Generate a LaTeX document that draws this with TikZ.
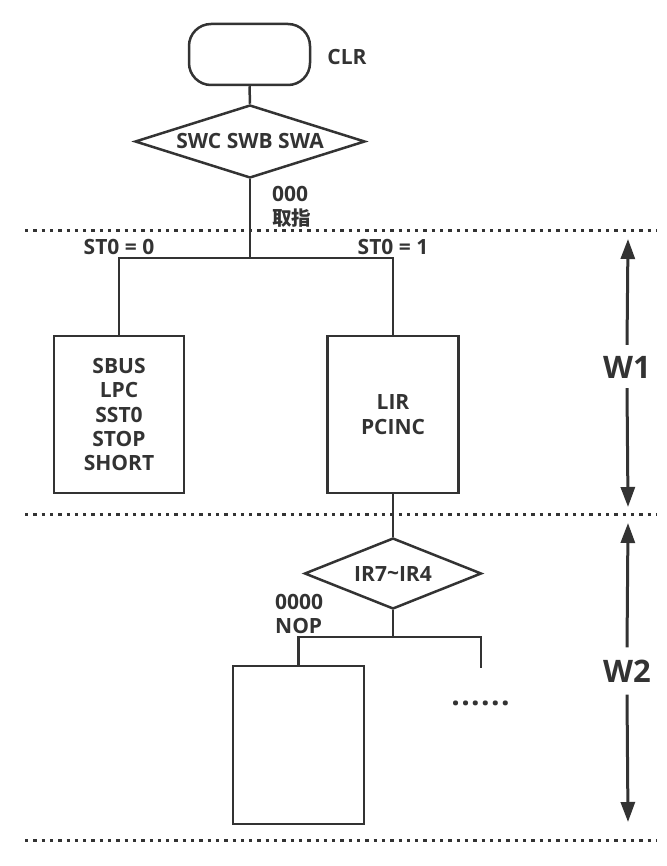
\documentclass[tikz,border=0pt]{standalone}
\usepackage{fontspec}
\setmainfont{Open Sans}
\newfontfamily\cjk{Noto Sans CJK SC}
\usetikzlibrary{shapes.geometric,arrows.meta}
\definecolor{ink}{HTML}{333333}
\tikzset{
  every node/.style={text=ink,font=\fontsize{21}{24.3}\selectfont\bfseries},
  conn/.style={draw=ink,line width=2.5pt},
  boxnode/.style={draw=ink,line width=2.5pt,rectangle,inner sep=0pt,align=center},
  decision/.style={draw=ink,line width=2.5pt,diamond,inner sep=0pt},
  divider/.style={draw=ink,line width=3pt,dash pattern=on 3.3pt off 5pt},
  span/.style={draw=ink,line width=3pt,-{Triangle[length=20pt,width=14pt]}},
  wlabel/.style={font=\fontsize{31}{31}\selectfont\bfseries,text height=23pt,text depth=0pt,inner xsep=0pt},
  lbl/.style={align=left,inner sep=0pt}
}
\begin{document}
\begin{tikzpicture}[x=1pt,y=-1pt]
\useasboundingbox (0,0) rectangle (666,866);
% dividers
\coordinate (l1a) at (25,231); \coordinate (l1b) at (657,231);
\coordinate (l2a) at (25,514); \coordinate (l2b) at (657,514);
\coordinate (l3a) at (25,840); \coordinate (l3b) at (657,840);
\draw[divider] (l1a) -- (l1b);
\draw[divider] (l2a) -- (l2b);
\draw[divider] (l3a) -- (l3b);
% nodes
\node[boxnode,rounded corners=22pt,minimum width=121pt,minimum height=61pt] (clr) at (249.5,54.5) {};
\node (clrl) at (347,57) {CLR};
\node[decision,minimum width=230pt,minimum height=73pt,shape aspect=3.15] (d1) at (250,141.5) {SWC SWB SWA};
\node[lbl,anchor=west] (l000) at (272,207) {000\\{\cjk\fontsize{19.5}{24.3}\selectfont\bfseries 取指}};
\coordinate (s1) at (250,258);
\node (st0) at (119,247) {ST0 = 0};
\node (st1) at (393,247) {ST0 = 1};
\node[boxnode,minimum width=130pt,minimum height=157pt] (b1) at (119,414.5) {SBUS\\LPC\\SST0\\STOP\\SHORT};
\node[boxnode,minimum width=131pt,minimum height=157pt] (b2) at (393,414.5) {LIR\\PCINC};
\node[decision,minimum width=177pt,minimum height=71pt,shape aspect=2.5] (d2) at (393,573.5) {IR7\raisebox{1pt}{\char`~}IR4};
\node[lbl,anchor=west] (l0000) at (275,614) {0000\\NOP};
\coordinate (s2) at (393,637);
\coordinate (rend) at (481,668);
\node[boxnode,minimum width=131pt,minimum height=158pt] (b3) at (298.5,745) {};
\node[font=\fontsize{30}{30}\selectfont\bfseries] (dots) at (480.5,703) {.\hspace{1.4pt}.\hspace{1.4pt}.\hspace{1.4pt}.\hspace{1.4pt}.\hspace{1.4pt}.};
% connectors
\draw[conn] (clr.south) -- (d1.north);
\draw[conn] (d1.south) -- (s1);
\draw[conn] (b1.north) |- (s1) -| (b2.north);
\draw[conn] (b2.south) -- (d2.north);
\draw[conn] (d2.south) -- (s2);
\draw[conn] (b3.north) |- (s2) -| (rend);
% W spans
\node[wlabel,inner ysep=10pt] (w1) at (627,366.5) {W1};
\coordinate (w1t) at (628,239); \coordinate (w1b) at (628,507);
\draw[span] (w1.north) -- (w1t);
\draw[span] (w1.south) -- (w1b);
\node[wlabel,inner ysep=12pt] (w2) at (627,671) {W2};
\coordinate (w2t) at (628,523); \coordinate (w2b) at (628,822);
\draw[span] (w2.north) -- (w2t);
\draw[span] (w2.south) -- (w2b);
\end{tikzpicture}
\end{document}
